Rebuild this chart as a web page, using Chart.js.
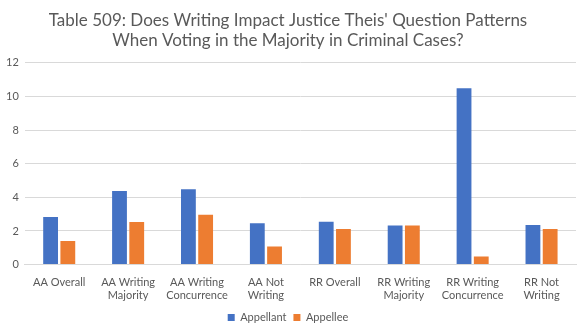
<!DOCTYPE html>
<html lang="en">
  <head>
    <meta charset="UTF-8" />
    <script src="https://cdn.jsdelivr.net/npm/chart.js@4.4.0/dist/chart.umd.min.js"></script>
    <title>Table 509</title>
    <style>
      body { margin: 0; background: #fff; }
    </style>
  </head>
  <body>
    <canvas id="myChart" width="577" height="333"></canvas>

    <script>
      var categories = [
        'AA Overall', ['AA Writing', 'Majority'], ['AA Writing', 'Concurrence'], ['AA Not', 'Writing'],
        'RR Overall', ['RR Writing', 'Majority'], ['RR Writing', 'Concurrence'], ['RR Not', 'Writing']
      ];
      var appellant = [2.83, 4.38, 4.48, 2.46, 2.55, 2.32, 10.48, 2.36];
      var appellee = [1.41, 2.54, 2.97, 1.07, 2.12, 2.32, 0.48, 2.12];

      var font = "Lato, 'Open Sans', sans-serif";
      var ctx = document.getElementById('myChart').getContext('2d');
      var myChart = new Chart(ctx, {
        type: 'bar',
        data: {
          labels: categories,
          datasets: [
            { label: 'Appellant', data: appellant, backgroundColor: '#4472c4', categoryPercentage: 0.5, barPercentage: 0.86 },
            { label: 'Appellee', data: appellee, backgroundColor: '#ed7d31', categoryPercentage: 0.5, barPercentage: 0.86 }
          ]
        },
        options: {
          responsive: false,
          animation: false,
          layout: { padding: { left: 0, right: 1, top: 10, bottom: 0 } },
          plugins: {
            title: {
              display: true,
              text: ["Table 509: Does Writing Impact Justice Theis' Question Patterns", 'When Voting in the Majority in Criminal Cases?'],
              color: '#595959',
              font: { family: font, size: 17, weight: 'normal' },
              padding: { top: 0, bottom: 12 },
              lineHeight: 1.45
            },
            legend: {
              position: 'bottom',
              labels: {
                color: '#595959',
                font: { family: font, size: 11 },
                boxWidth: 7,
                boxHeight: 7,
                padding: 7
              }
            },
            tooltip: { enabled: false }
          },
          scales: {
            x: {
              grid: { display: false },
              border: { color: '#d9d9d9' },
              ticks: { color: '#595959', font: { family: font, size: 11 }, maxRotation: 0, autoSkip: false }
            },
            y: {
              min: 0,
              max: 12,
              ticks: { stepSize: 2, color: '#595959', font: { family: font, size: 11 }, padding: 6 },
              grid: { color: '#d9d9d9', drawTicks: false },
              border: { display: false }
            }
          }
        }
      });
    </script>
  </body>
</html>
